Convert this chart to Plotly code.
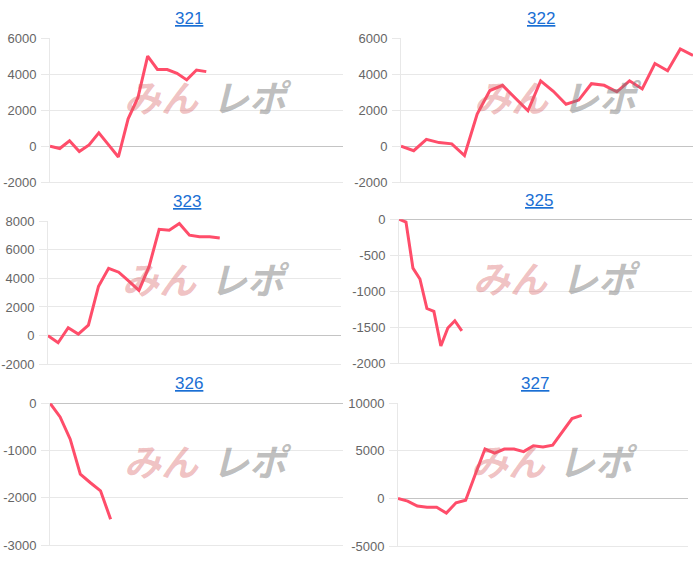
import plotly.graph_objects as go

# ---- data ----
titles = ["321", "322", "323", "325", "326", "327"]
label_counts = [31, 24, 30, 43, 30, 31]

s321 = [0, -130, 300, -300, 70, 740, 70, -600, 1520, 2690, 5000, 4260, 4260, 4050, 3680, 4230, 4140]
s322 = [0, -250, 380, 200, 130, -520, 1790, 3090, 3380, 2690, 1970, 3630, 3050, 2330, 2560,
        3470, 3380, 3020, 3630, 3180, 4590, 4190, 5400, 5040]
s323 = [0, -500, 550, 110, 730, 3450, 4700, 4430, 3800, 3160, 4820, 7430, 7360, 7840, 7020, 6910, 6910, 6820]
s325 = [0, -40, -680, -830, -1240, -1280, -1760, -1510, -1410, -1550]
s326 = [0, -290, -760, -1500, -1680, -1850, -2450]
s327 = [0, -270, -780, -920, -920, -1530, -440, -170, 2550, 5190, 4750, 5190, 5190, 4920, 5530,
        5400, 5600, 6960, 8390, 8720]
series = [s321, s322, s323, s325, s326, s327]

ticks321 = [-2000, 0, 2000, 4000, 6000]
ticks322 = [-2000, 0, 2000, 4000, 6000]
ticks323 = [-2000, 0, 2000, 4000, 6000, 8000]
ticks325 = [-2000, -1500, -1000, -500, 0]
ticks326 = [-3000, -2000, -1000, 0]
ticks327 = [-5000, 0, 5000, 10000]
tick_sets = [ticks321, ticks322, ticks323, ticks325, ticks326, ticks327]

# ---- layout geometry (pixels) ----
W, H = 700, 563
boxes = [  # x0, x1, ytop, ybottom
    (50, 343, 32, 180),
    (401, 693, 32, 180),
    (48, 341, 220, 367),
    (399, 692, 218, 366),
    (50, 343, 407, 553),
    (398, 688, 407, 554),
]
title_pos = [(189, 12), (541, 12), (187, 200), (539, 199), (189, 387), (535, 387)]

LINE = "#ff4d6a"
GRID = "#e8e8e8"
TICKFONT = dict(family="Liberation Sans, Arial, sans-serif", size=13, color="#666666")

fig = go.Figure()
layout = dict(
    width=W, height=H, autosize=False,
    margin=dict(l=0, r=0, t=0, b=0),
    paper_bgcolor="white", plot_bgcolor="white",
    showlegend=False,
    annotations=[],
)

for i, (vals, n, tks, box) in enumerate(zip(series, label_counts, tick_sets, boxes)):
    k = "" if i == 0 else str(i + 1)
    x0, x1, yt, yb = box
    fig.add_trace(go.Scatter(
        x=list(range(len(vals))), y=vals, mode="lines",
        line=dict(color=LINE, width=3), xaxis="x" + k, yaxis="y" + k,
        hoverinfo="skip",
    ))
    layout["xaxis" + k] = dict(
        domain=[x0 / W, x1 / W], anchor="y" + k, range=[0, n - 1],
        showgrid=False, zeroline=False, showticklabels=False, ticks="",
        showline=True, linecolor=GRID, linewidth=1, fixedrange=True,
    )
    layout["yaxis" + k] = dict(
        domain=[1 - yb / H, 1 - yt / H], anchor="x" + k, range=[min(tks), max(tks)],
        tickmode="array", tickvals=tks, ticktext=[str(t) for t in tks],
        showgrid=True, gridcolor=GRID, gridwidth=1,
        zeroline=True, zerolinecolor="#c4c4c4", zerolinewidth=1,
        showline=True, linecolor=GRID, linewidth=1,
        ticks="outside", ticklen=8, tickcolor=GRID, tickwidth=1,
        ticklabelstandoff=2, tickfont=TICKFONT, fixedrange=True,
    )
    tx, ty = title_pos[i]
    layout["annotations"].append(dict(
        text="<u>" + titles[i] + "</u>", x=tx / W, y=1 - ty / H,
        xref="paper", yref="paper", xanchor="center", yanchor="middle",
        showarrow=False,
        font=dict(family="Liberation Sans, Arial, sans-serif", size=17, color="#1a6fd4"),
    ))
    # watermark
    layout["annotations"].append(dict(
        text="みん", x=0.38, y=0.6, xref="x" + k + " domain", yref="y" + k + " domain",
        xanchor="center", yanchor="middle", showarrow=False,
        font=dict(family="Noto Sans CJK JP", size=37, color="rgba(215,95,100,0.40)",
                  weight="bold", style="italic"),
    ))
    layout["annotations"].append(dict(
        text="レポ", x=0.69, y=0.6, xref="x" + k + " domain", yref="y" + k + " domain",
        xanchor="center", yanchor="middle", showarrow=False,
        font=dict(family="Noto Sans CJK JP", size=37, color="rgba(120,120,120,0.48)",
                  weight="bold", style="italic"),
    ))

fig.update_layout(**layout)
fig.write_html("out.html", config={"displayModeBar": False, "staticPlot": True},
               post_script="document.body.style.margin='0px';")
